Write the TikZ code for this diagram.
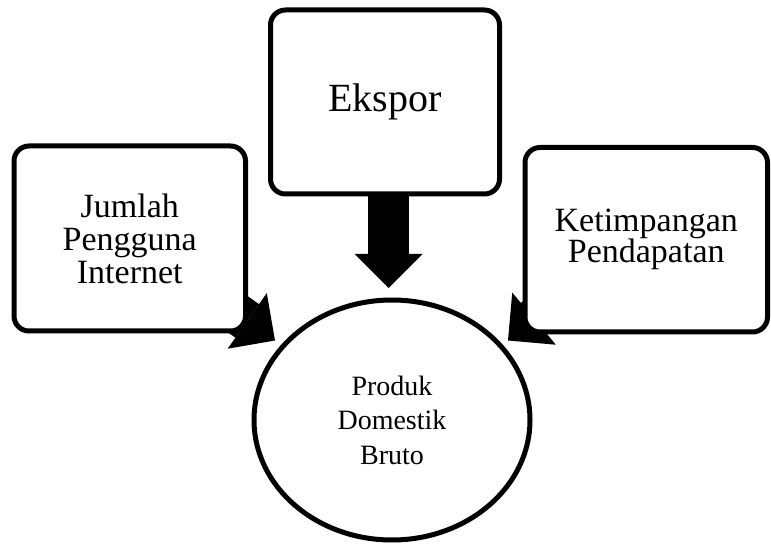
\documentclass[tikz,border=0pt]{standalone}
\usepackage{fontspec}
\setmainfont{Liberation Serif}
\usetikzlibrary{shapes.geometric,arrows.meta,backgrounds,calc}

\tikzset{
  x=1pt, y=1pt,
  factor/.style={draw=black, line width=5pt, rounded corners=15pt, fill=white,
    align=center, inner sep=0pt},
  target/.style={draw=black, line width=5pt, ellipse, fill=white,
    align=center, inner sep=0pt, minimum width=276pt, minimum height=240pt,
    font=\fontsize{28}{34.5}\selectfont},
  fatarrow/.style={draw=black, line width=41pt,
    -{Triangle[width=68pt, length=34pt, line width=0pt]}},
}

\begin{document}
\begin{tikzpicture}
  \useasboundingbox (0,0) rectangle (771,544);

  % the three factor boxes
  \node[factor, minimum width=231.5pt, minimum height=185pt,
        font=\fontsize{34}{33}\selectfont]
    (internet) at (129.75,305.5) {Jumlah\\Pengguna\\Internet};
  \node[factor, minimum width=229pt, minimum height=184pt,
        font=\fontsize{40}{42}\selectfont]
    (ekspor) at (385,442) {Ekspor};
  \node[factor, minimum width=242.5pt, minimum height=184.5pt,
        font=\fontsize{34}{31}\selectfont]
    (ketimpangan) at (646.25,304.25) {Ketimpangan\\Pendapatan};

  % the outcome
  \node[target] (pdb) at (392,124) {Produk\\Domestik\\Bruto};

  % arrow end points
  \coordinate (tipT) at (388.5,256);
  \coordinate (tipL) at (275,203.5);
  \coordinate (tipR) at (508,203.5);

  % thick arrows, tucked behind the boxes
  \begin{scope}[on background layer]
    \draw[fatarrow] (ekspor.south -| tipT) -- (tipT);
    \draw[fatarrow] ($(internet.south east)+(-44,43)$) -- (tipL);
    \draw[fatarrow] ($(ketimpangan.south west)+(44,43)$) -- (tipR);
  \end{scope}
\end{tikzpicture}
\end{document}
